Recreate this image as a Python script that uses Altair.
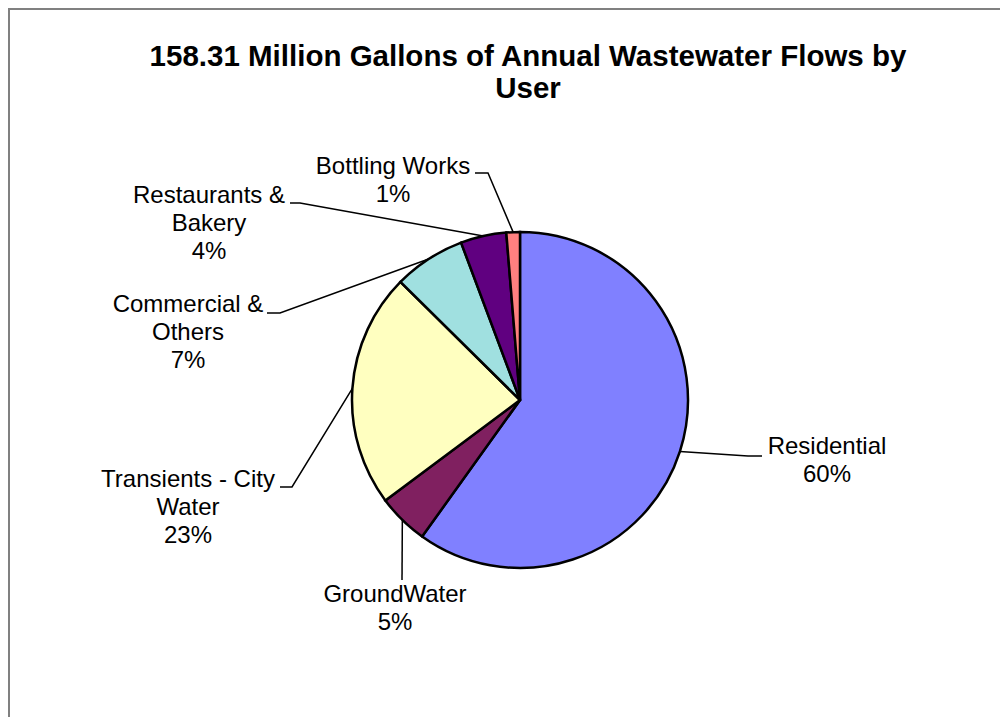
import math
import altair as alt
import pandas as pd

# ---------------- data ----------------
categories = ["Residential", "GroundWater", "Transients - City Water",
              "Commercial & Others", "Restaurants & Bakery", "Bottling Works"]
label_lines = [["Residential"], ["GroundWater"], ["Transients - City", "Water"],
               ["Commercial &", "Others"], ["Restaurants &", "Bakery"], ["Bottling Works"]]
shares = [59.9, 4.9, 22.6, 6.9, 4.4, 1.3]
colors = ["#8080FF", "#802060", "#FFFFC0", "#A0E0E0", "#600080", "#FF8080"]
title_lines = ["158.31 Million Gallons of Annual Wastewater Flows by", "User"]

# ---------------- layout (page pixel coordinates) ----------------
W, H = 992, 709
CENTER = (520, 400)
RADIUS = 168
TITLE_POS = (528, 57)          # centre of first title line
label_pos = {                  # centre of first label line
    "Residential": (827, 447),
    "GroundWater": (395, 595),
    "Transients - City Water": (188, 480),
    "Commercial & Others": (188, 305),
    "Restaurants & Bakery": (209, 196),
    "Bottling Works": (393, 167),
}
leader_pts = {
    "Residential": [(748, 456), (762, 456)],
    "GroundWater": [(402, 580)],
    "Transients - City Water": [(292, 487), (280, 487)],
    "Commercial & Others": [(280, 313), (267, 313)],
    "Restaurants & Bakery": [(300, 203), (290, 203)],
    "Bottling Works": [(488, 173), (475, 173)],
}


def px(x):
    return x - 8


def py(y):
    return y - 8


cx, cy = px(CENTER[0]), py(CENTER[1])

# ---------------- tables ----------------
total = sum(shares)
pie_df = pd.DataFrame({"category": categories, "share": shares,
                       "idx": list(range(len(categories)))})

label_rows, line_rows = [], []
cum = 0.0
for i, (cat, v) in enumerate(zip(categories, shares)):
    mid = (cum + v / 2) / total * 2 * math.pi
    cum += v
    ex = cx + RADIUS * math.sin(mid)
    ey = cy - RADIUS * math.cos(mid)
    pts = [(ex, ey)] + [(px(a), py(b)) for a, b in leader_pts[cat]]
    for s, (a, b) in enumerate(pts):
        line_rows.append({"category": cat, "seq": s, "x": a, "y": b})
    lx, ly = label_pos[cat]
    pct = f"{round(v / total * 100)}%"
    label_rows.append({"category": cat, "x": px(lx), "y": py(ly),
                       "label": "\n".join(label_lines[i] + [pct])})

lines_df = pd.DataFrame(line_rows)
labels_df = pd.DataFrame(label_rows)
title_df = pd.DataFrame({"x": [px(TITLE_POS[0])], "y": [py(TITLE_POS[1])],
                         "title": ["\n".join(title_lines)]})

xs = alt.Scale(domain=[0, W], range=[0, W], nice=False, zero=False)
ys = alt.Scale(domain=[0, H], range=[0, H], nice=False, zero=False)

pie = alt.Chart(pie_df).mark_arc(outerRadius=RADIUS, stroke="black", strokeWidth=2.5).encode(
    theta=alt.Theta("share:Q", stack=True),
    color=alt.Color("category:N", scale=alt.Scale(domain=categories, range=colors), legend=None),
    order=alt.Order("idx:Q"),
    x=alt.value(cx),
    y=alt.value(cy),
)

leaders = alt.Chart(lines_df).mark_line(color="black", strokeWidth=1.5).encode(
    x=alt.X("x:Q", scale=xs, axis=None),
    y=alt.Y("y:Q", scale=ys, axis=None),
    detail="category:N",
    order="seq:Q",
)

labels = alt.Chart(labels_df).mark_text(
    font="Liberation Sans", fontSize=24, lineBreak="\n", lineHeight=28,
    align="center", baseline="middle", color="black",
).encode(
    x=alt.X("x:Q", scale=xs, axis=None),
    y=alt.Y("y:Q", scale=ys, axis=None),
    text="label:N",
)

title = alt.Chart(title_df).mark_text(
    font="Liberation Sans", fontSize=29.5, fontWeight="bold", lineBreak="\n",
    lineHeight=32, align="center", baseline="middle", color="black",
).encode(
    x=alt.X("x:Q", scale=xs, axis=None),
    y=alt.Y("y:Q", scale=ys, axis=None),
    text="title:N",
)

border_df = pd.DataFrame({"side": ["top", "left"]})
border_top = alt.Chart(border_df).transform_filter("datum.side == 'top'").mark_rule(
    color="#808080", strokeWidth=2).encode(
    x=alt.value(0), x2=alt.value(W), y=alt.value(1))
border_left = alt.Chart(border_df).transform_filter("datum.side == 'left'").mark_rule(
    color="#808080", strokeWidth=2).encode(
    x=alt.value(1), y=alt.value(0), y2=alt.value(H))

chart = alt.layer(border_top, border_left, pie, leaders, labels, title).properties(
    width=W, height=H,
    autosize=alt.AutoSizeParams(type="none"),
    padding=0,
).configure_view(stroke=None).configure(background="white")

chart.save("out.html", embed_options={"renderer": "svg", "actions": False})
